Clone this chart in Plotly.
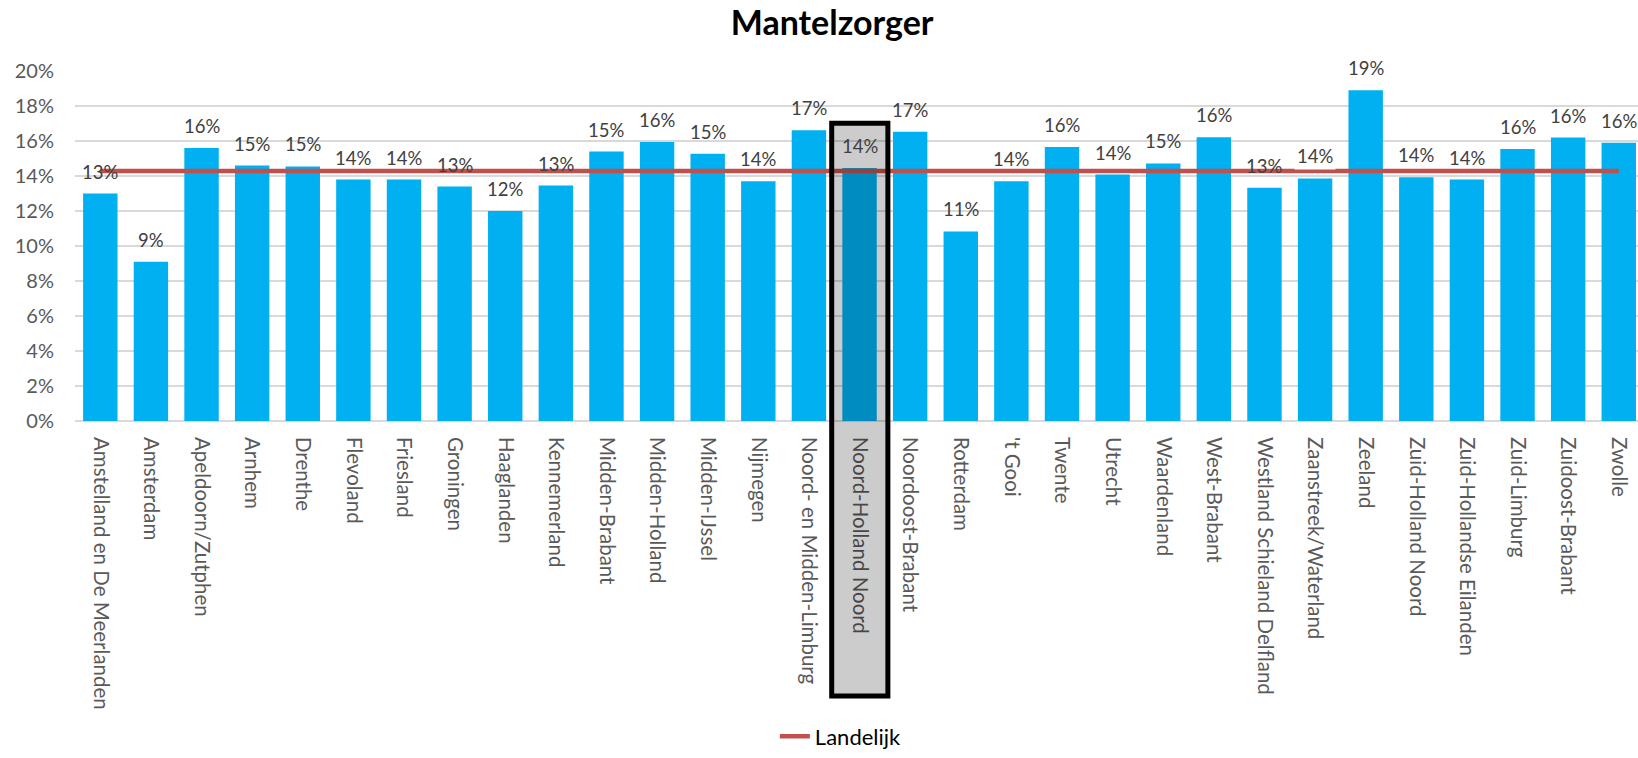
import plotly.graph_objects as go

regios = [
    "Amstelland en De Meerlanden", "Amsterdam", "Apeldoorn/Zutphen", "Arnhem",
    "Drenthe", "Flevoland", "Friesland", "Groningen", "Haaglanden",
    "Kennemerland", "Midden-Brabant", "Midden-Holland", "Midden-IJssel",
    "Nijmegen", "Noord- en Midden-Limburg", "Noord-Holland Noord",
    "Noordoost-Brabant", "Rotterdam", "'t Gooi", "Twente", "Utrecht",
    "Waardenland", "West-Brabant", "Westland Schieland Delfland",
    "Zaanstreek/Waterland", "Zeeland", "Zuid-Holland Noord",
    "Zuid-Hollandse Eilanden", "Zuid-Limburg", "Zuidoost-Brabant", "Zwolle",
]

mantelzorger = [
    0.130, 0.091, 0.156, 0.146, 0.1455, 0.138, 0.138, 0.134, 0.120,
    0.1345, 0.154, 0.1594, 0.1527, 0.137, 0.1662, 0.1446,
    0.1653, 0.1083, 0.137, 0.1566, 0.1408,
    0.1472, 0.1621, 0.1333,
    0.1386, 0.189, 0.1393,
    0.138, 0.1555, 0.162, 0.159,
]

landelijk = 0.1428
uitgelicht = "Noord-Holland Noord"
label_met_achtergrond = "Zaanstreek/Waterland"

y_ticks = [0, 0.02, 0.04, 0.06, 0.08, 0.10, 0.12, 0.14, 0.16, 0.18, 0.20]

FONT = "Lato"
GRAY = "#595959"

fig = go.Figure()

fig.add_trace(go.Bar(
    x=regios,
    y=mantelzorger,
    marker=dict(color="#00B0F0", line=dict(width=0)),
    showlegend=False,
    hoverinfo="x+y",
))

fig.add_trace(go.Scatter(
    x=regios,
    y=[landelijk] * len(regios),
    mode="lines",
    name="Landelijk",
    line=dict(color="#C0504D", width=4.5),
))

# value labels above each bar
for regio, waarde in zip(regios, mantelzorger):
    fig.add_annotation(
        x=regio, y=waarde, xref="x", yref="y",
        text=f"{waarde:.0%}", showarrow=False,
        yanchor="bottom", yshift=8,
        bgcolor="white" if regio == label_met_achtergrond else "rgba(0,0,0,0)",
        borderpad=2,
        font=dict(family=FONT, size=18.5, color="#404040"),
    )

# highlighted region: darkened frame around the bar and its axis label
idx = regios.index(uitgelicht)
fig.add_shape(
    type="rect", xref="x", yref="paper",
    x0=idx - 0.55, x1=idx + 0.56, y0=-0.786, y1=0.851,
    fillcolor="rgba(0,0,0,0.2)",
    line=dict(color="black", width=5),
    layer="above",
)

fig.update_layout(
    width=1638, height=758,
    margin=dict(l=75, r=0, t=71, b=332),
    paper_bgcolor="white", plot_bgcolor="white",
    bargap=0.32,
    title=dict(
        text="<b>Mantelzorger</b>",
        x=0.508, xanchor="center", y=1 - 23 / 758, yanchor="middle",
        font=dict(family=FONT, size=34, color="black"),
    ),
    xaxis=dict(
        range=[-0.5, 30.38],
        tickangle=90,
        tickfont=dict(family=FONT, size=20.5, color=GRAY),
        showgrid=False, showline=False, zeroline=False,
        ticklabelstandoff=15,
        fixedrange=True,
    ),
    yaxis=dict(
        range=[0, 0.20],
        tickvals=y_ticks,
        tickformat=".0%",
        tickfont=dict(family=FONT, size=20, color=GRAY),
        showgrid=True, gridcolor="#D9D9D9", gridwidth=1.5,
        zeroline=True, zerolinecolor="#D9D9D9", zerolinewidth=1.5,
        showline=False,
        ticklabelstandoff=20,
        fixedrange=True,
    ),
    legend=dict(
        orientation="h",
        x=0.49, xanchor="center",
        y=-0.901, yanchor="middle",
        font=dict(family=FONT, size=22, color="black"),
        bgcolor="rgba(0,0,0,0)",
    ),
)

fig.write_html("out.html")
